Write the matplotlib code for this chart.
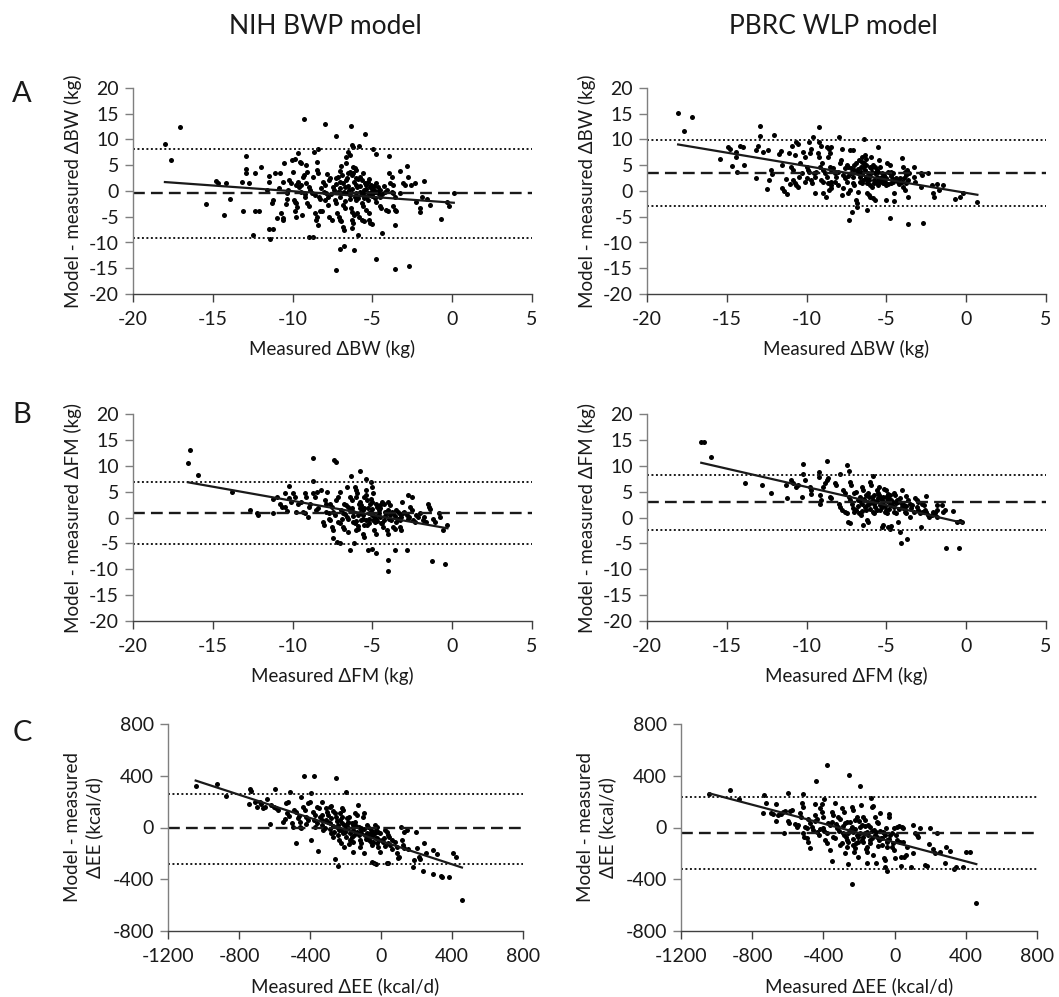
import numpy as np
import matplotlib
matplotlib.use('Agg')
import matplotlib.pyplot as plt

plt.rcParams['font.family'] = ['Lato', 'DejaVu Sans']

# column titles, row letters
col_titles = ['NIH BWP model', 'PBRC WLP model']
row_letters = ['A', 'B', 'C']

x_labels = ['Measured \u0394BW (kg)', 'Measured \u0394FM (kg)', 'Measured \u0394EE (kcal/d)']
y_labels = ['Model - measured \u0394BW (kg)', 'Model - measured \u0394FM (kg)',
            'Model - measured\n\u0394EE (kcal/d)']

# (measured, model - measured)
nih_bw = [(-18.0, 9.2), (-17.6, 6.1), (-17.05, 12.4), (-15.4, -2.5), (-14.8, 1.9), (-14.7, 1.6),
          (-14.3, -4.6), (-14.2, 1.5), (-13.9, -1.6), (-13.2, 1.8), (-13.1, -3.8), (-12.9, 6.7),
          (-12.9, 4.2), (-12.95, 3.4), (-12.75, 1.5), (-12.5, -8.6), (-12.35, 3.5), (-12.35, -3.9),
          (-12.1, -3.9), (-12.0, 4.6), (-11.6, 0.2), (-11.5, 3.0), (-11.5, 1.8), (-11.5, -7.3),
          (-11.2, -7.3), (-11.4, -9.3), (-11.3, -2.3), (-11.2, -1.7), (-11.1, 3.4), (-10.8, 3.4),
          (-11.0, -5.3), (-10.85, 0.65), (-10.7, -4.3), (-10.6, -5.3), (-10.6, -5.6), (-10.55, 5.35),
          (-10.6, 1.8), (-10.4, -2.5), (-10.35, -1.6), (-10.3, 0.2), (-10.35, -0.45), (-10.2, 2.1),
          (-10.1, 1.6), (-10.05, 6.0), (-9.87, 6.3), (-9.97, 3.7), (-9.9, -1.7), (-9.85, -2.1),
          (-9.8, -2.4), (-9.87, -3.8), (-9.7, -3.2), (-9.8, -5.0), (-9.76, 1.2), (-9.65, 1.8),
          (-9.6, 0.8), (-9.65, 7.3), (-9.55, 5.7), (-9.45, 5.35), (-9.5, 1.2), (-9.35, 2.8),
          (-9.3, 3.1), (-9.3, 14.0), (-9.45, -0.1), (-9.25, -0.6), (-9.4, -4.6), (-9.15, 5.0),
          (-9.1, 3.7), (-9.15, 1.6), (-9.0, 0.8), (-9.1, -2.4), (-9.0, -3.0), (-8.95, -9.0),
          (-8.75, -9.0), (-8.9, 0.2), (-8.8, -0.45), (-8.7, 2.8), (-8.67, 7.6), (-8.6, -4.3),
          (-8.5, -5.0), (-8.55, -5.7), (-8.4, -6.6), (-8.5, 4.1), (-8.4, 3.4), (-8.46, 5.7),
          (-8.4, 8.1), (-8.34, -1.1), (-8.26, -1.6), (-8.3, -3.8), (-8.13, -3.8), (-7.94, 13.0),
          (-8.1, 1.8), (-8.0, 1.2), (-8.05, -0.1), (-7.88, -0.45), (-7.77, -1.1), (-8.0, -1.75),
          (-7.77, -2.7), (-7.84, 3.3), (-7.7, 2.1), (-7.67, 2.45), (-7.7, -5.0), (-7.56, -5.6),
          (-7.46, 0.8), (-7.4, 0.2), (-7.36, -1.75), (-7.3, -2.4), (-7.25, 10.6), (-7.3, -15.4),
          (-7.25, 2.45), (-7.15, 2.8), (-7.04, 1.8), (-7.15, -0.1), (-7.04, -1.1), (-6.94, -0.45),
          (-7.2, -4.3), (-7.1, -5.0), (-7.0, -5.6), (-7.04, -11.2), (-6.77, -10.6), (-6.98, 4.9),
          (-6.94, -5.9), (-6.83, -6.9), (-6.8, -7.5), (-6.83, -2.7), (-6.73, -3.35), (-6.83, 1.5),
          (-6.73, 0.8), (-6.63, 2.1), (-6.67, 5.35), (-6.63, 6.6), (-6.52, 7.6), (-6.42, 7.0),
          (-6.6, -0.45), (-6.46, 0.2), (-6.42, -0.8), (-6.52, 3.4), (-6.42, 3.7), (-6.3, 3.1),
          (-6.35, 12.6), (-6.3, 8.9), (-6.2, 8.6), (-6.37, -3.35), (-6.25, -4.0), (-6.17, -4.6),
          (-6.3, -5.6), (-6.2, -6.25), (-6.25, -7.2), (-6.14, -11.5), (-6.2, 4.7), (-6.1, 4.4),
          (-6.0, 4.1), (-6.17, 1.8), (-6.04, 1.2), (-5.96, 0.8), (-6.1, -1.1), (-6.0, -1.75),
          (-5.9, -1.4), (-5.96, -4.3), (-5.83, -5.0), (-5.9, -8.5), (-5.83, 8.8), (-5.79, 2.8),
          (-5.68, 2.1), (-5.62, 3.4), (-5.75, -0.1), (-5.62, -0.45), (-5.54, 0.2), (-5.68, -2.4),
          (-5.58, -3.0), (-5.64, -5.6), (-5.54, -5.9), (-5.48, 11.1), (-5.48, 1.5), (-5.37, 1.2),
          (-5.27, 1.8), (-5.4, -1.1), (-5.27, -1.75), (-5.16, -0.8), (-5.37, -3.7), (-5.2, -4.3),
          (-5.2, -5.6), (-5.12, -6.25), (-5.12, 0.8), (-5.0, 0.5), (-4.9, 0.2), (-5.06, -0.1),
          (-4.95, -0.45), (-4.85, -0.1), (-5.0, -6.4), (-4.95, 8.1), (-4.8, 7.2), (-4.85, -1.4),
          (-4.75, -2.1), (-4.75, -13.2), (-4.75, 1.5), (-4.64, 0.8), (-4.64, -0.45), (-4.53, 0.2),
          (-4.5, -1.1), (-4.53, -3.0), (-4.43, -3.35), (-4.4, -8.1), (-4.2, -0.1), (-4.1, 0.2),
          (-4.16, -3.7), (-4.0, -3.8), (-3.95, 6.8), (-3.95, 3.55), (-3.8, 2.8), (-3.87, 1.5),
          (-3.74, 1.2), (-3.8, -0.1), (-3.7, -0.45), (-3.6, -1.1), (-3.74, -3.0), (-3.6, -3.7),
          (-3.5, -3.8), (-3.6, -6.6), (-3.6, -15.2), (-3.28, 3.9), (-3.24, -0.45), (-3.07, 1.5),
          (-2.97, 1.2), (-2.82, 4.9), (-2.76, 2.65), (-2.7, -14.6), (-2.6, 1.2), (-2.34, 1.5),
          (-2.24, -2.1), (-2.03, -3.35), (-2.0, -4.0), (-1.92, -1.1), (-1.76, 1.9), (-1.6, -1.6),
          (-1.4, -2.7), (-0.7, -5.4), (-0.35, -2.1), (-0.2, -2.9), (0.1, -0.45),
          (-7.0, 0.5), (-6.8, -0.2), (-6.5, 1.0), (-6.3, 0.4), (-6.0, -0.3), (-5.8, 0.9),
          (-5.6, -0.7), (-5.4, 0.3), (-5.3, -0.3), (-5.1, 1.1), (-4.9, 0.9), (-4.7, -0.2),
          (-5.9, 2.3), (-6.6, 2.6), (-6.9, 3.1), (-7.3, 1.3), (-7.6, -0.6), (-8.2, 0.6),
          (-8.6, -0.8), (-9.2, -1.2), (-6.4, -1.5), (-5.5, -1.3), (-4.4, -0.6), (-4.3, 1.0),
          (-6.7, -2.0), (-7.0, 3.9), (-6.2, 3.4), (-6.0, 2.5), (-5.2, 2.3), (-5.0, -1.0)]

pbrc_bw = [(-18.05, 15.2), (-17.7, 11.7), (-17.15, 14.45), (-15.45, 6.25), (-14.9, 8.45), (-14.8, 8.1),
           (-14.7, 4.9), (-14.45, 7.6), (-14.4, 6.6), (-14.35, 3.75), (-14.2, 8.8), (-13.98, 8.6),
           (-13.9, 5.1), (-13.2, 2.6), (-13.15, 7.9), (-13.05, 8.7), (-12.9, 12.7), (-12.9, 10.65),
           (-12.75, 7.6), (-12.5, 0.45), (-12.4, 7.9), (-12.35, 2.1), (-12.25, 4.05), (-12.15, 3.3),
           (-12.05, 10.9), (-11.7, 7.15), (-11.6, 7.8), (-11.55, 5.0), (-11.55, 0.5), (-11.4, 0.05),
           (-11.3, 2.4), (-11.2, -0.6), (-11.1, 7.3), (-11.05, 1.35), (-10.95, 4.7), (-10.85, 4.05),
           (-10.9, 8.7), (-10.85, 2.1), (-10.75, 1.6), (-10.7, 6.95), (-10.65, 9.55), (-10.55, 9.2),
           (-10.65, 1.15), (-10.55, 0.8), (-10.45, 2.8), (-10.3, 3.4), (-10.4, 5.35), (-10.2, 7.6),
           (-10.1, 6.65), (-10.1, 1.8), (-10.0, 2.45), (-10.0, 4.7), (-9.9, 4.05), (-9.85, 3.75),
           (-9.85, 9.55), (-9.8, 7.3), (-9.7, 8.25), (-9.75, 2.1), (-9.65, 1.5), (-9.6, 10.45),
           (-9.55, 3.4), (-9.5, 2.8), (-9.4, 3.75), (-9.5, -0.45), (-9.3, 7.3), (-9.25, 6.65),
           (-9.25, 12.45), (-9.2, 9.55), (-9.1, 8.7), (-9.15, 4.7), (-9.05, 5.35), (-8.95, 4.05),
           (-9.1, 2.1), (-9.0, 1.8), (-8.95, -0.45), (-8.8, -1.1), (-8.85, 3.4), (-8.75, 2.8),
           (-8.7, 8.6), (-8.6, 8.25), (-8.45, 8.6), (-8.65, 6.65), (-8.55, 7.3), (-8.65, 1.6),
           (-8.5, 1.8), (-8.45, 1.15), (-8.55, 4.7), (-8.45, 4.05), (-8.35, 4.4), (-8.6, 0.1),
           (-8.45, 0.5), (-8.25, 3.4), (-8.15, 2.8), (-8.05, 3.75), (-8.2, 1.8), (-8.05, 1.15),
           (-7.95, 10.45), (-7.9, 5.35), (-7.85, 6.0), (-7.8, 8.25), (-7.8, -0.8), (-7.75, 0.5),
           (-7.7, 3.1), (-7.6, 2.45), (-7.5, 1.8), (-7.6, 4.4), (-7.5, 5.0), (-7.4, 4.7),
           (-7.4, -0.45), (-7.3, 0.2), (-7.35, -5.6), (-7.3, 7.9), (-7.1, 7.9), (-7.2, 3.4),
           (-7.1, 2.8), (-7.05, 4.05), (-7.15, -4.0), (-7.1, 1.5), (-7.0, 1.15), (-7.0, 5.0),
           (-6.9, 5.35), (-6.9, -1.75), (-6.85, -2.4), (-6.85, -3.15), (-6.75, -0.15), (-6.75, 3.4),
           (-6.65, 2.8), (-6.6, 3.75), (-6.7, 6.0), (-6.55, 6.65), (-6.5, 5.7), (-6.65, 1.8),
           (-6.55, 1.5), (-6.45, 2.1), (-6.45, 4.7), (-6.35, 4.05), (-6.3, 5.0), (-6.4, 10.0),
           (-6.35, 6.95), (-6.25, 6.3), (-6.25, 2.8), (-6.15, 3.4), (-6.1, 2.1), (-6.2, -0.45),
           (-6.1, -0.8), (-6.0, -1.1), (-6.2, -3.7), (-6.05, 4.7), (-5.95, 4.4), (-5.85, 5.0),
           (-6.0, 1.15), (-5.9, 0.8), (-5.8, 1.5), (-5.95, 6.65), (-5.85, -1.4), (-5.7, -1.75),
           (-5.7, 3.4), (-5.6, 2.8), (-5.55, 3.75), (-5.6, 1.8), (-5.5, 1.5), (-5.45, 2.1),
           (-5.5, 8.6), (-5.45, 6.0), (-5.4, 4.7), (-5.3, 3.4), (-5.25, 2.8), (-5.15, 3.1),
           (-5.2, 1.5), (-5.1, 1.8), (-5.05, 1.15), (-5.05, -1.75), (-4.95, 5.35), (-4.8, 5.0),
           (-4.9, 3.75), (-4.8, 3.4), (-4.7, 3.75), (-4.8, -5.3), (-4.7, 1.6), (-4.6, 1.8),
           (-4.6, 3.4), (-4.5, -0.45), (-4.5, -1.9), (-4.35, 2.1), (-4.25, 1.8), (-4.15, 2.45),
           (-4.05, 1.8), (-4.0, 6.5), (-3.95, 4.7), (-3.85, 3.75), (-3.8, 3.1), (-3.95, 0.8),
           (-3.85, 0.2), (-3.75, 1.5), (-3.65, 2.1), (-3.7, 4.05), (-3.6, 3.55), (-3.65, -1.2),
           (-3.65, -6.45), (-3.3, 4.7), (-3.25, 2.8), (-3.2, 1.8), (-2.85, 3.4), (-2.75, 3.1),
           (-2.85, 0.8), (-2.7, -6.25), (-2.4, 3.4), (-2.15, 1.15), (-2.05, -0.45), (-2.0, -1.1),
           (-1.8, 1.35), (-1.45, 1.2), (-1.7, 0.2), (-0.7, -1.5), (-0.4, -1.1), (-0.2, -0.45),
           (0.7, -2.1),
           (-6.8, 4.2), (-6.5, 3.3), (-6.3, 2.3), (-6.0, 3.0), (-5.8, 2.2), (-5.6, 4.1),
           (-5.4, 2.5), (-5.2, 1.9), (-5.0, 2.6), (-4.9, 1.4), (-4.7, 2.9), (-4.4, 2.6),
           (-6.6, 4.7), (-6.9, 3.7), (-7.2, 4.5), (-7.4, 3.0), (-5.9, 3.6), (-5.5, 1.1),
           (-5.3, 1.7), (-4.2, 1.3), (-6.2, 1.6), (-5.7, 4.6), (-6.4, 5.5), (-4.6, 2.3),
           (-3.9, 2.5)]

nih_fm = [(-16.55, 10.45), (-16.4, 13.0), (-15.9, 8.2), (-13.8, 4.85), (-12.7, 1.5), (-12.15, 0.45),
          (-12.2, 0.8), (-11.2, 0.8), (-11.25, 3.55), (-11.0, 4.0), (-10.8, 2.7), (-10.65, 2.05),
          (-10.5, 2.05), (-10.45, 4.65), (-10.35, 1.2), (-10.2, 6.1), (-10.2, 3.7), (-10.1, 3.0),
          (-9.95, 4.65), (-9.85, 4.0), (-9.8, 1.1), (-9.65, 2.7), (-9.45, 3.0), (-9.35, 1.1),
          (-9.2, 0.9), (-9.25, 4.65), (-9.15, 4.0), (-9.05, 0.15), (-8.95, 2.05), (-8.9, 2.7),
          (-8.75, 7.1), (-8.7, 4.65), (-8.6, 4.0), (-8.5, 4.95), (-8.7, 11.55), (-8.55, 1.4),
          (-8.4, 1.75), (-8.2, 5.3), (-8.1, -0.85), (-8.05, -1.5), (-8.0, 3.35), (-7.9, 2.7),
          (-7.9, 1.1), (-7.75, 0.8), (-7.85, 4.95), (-7.75, -0.2), (-7.65, -0.5), (-7.65, 2.7),
          (-7.55, 2.05), (-7.55, -1.8), (-7.45, -2.45), (-7.5, -4.05), (-7.45, 1.1), (-7.35, 0.45),
          (-7.4, 11.2), (-7.3, 10.65), (-7.25, 3.35), (-7.15, 4.0), (-7.2, -4.7), (-7.05, -4.85),
          (-7.15, -0.85), (-7.05, -1.15), (-7.05, 4.95), (-6.95, 1.4), (-6.85, 0.9), (-6.85, -1.8),
          (-6.75, -2.15), (-6.8, 2.7), (-6.65, 2.4), (-6.6, 5.95), (-6.6, 0.15), (-6.5, -0.2),
          (-6.5, -2.8), (-6.4, -6.3), (-6.35, 8.0), (-6.4, 4.0), (-6.3, 3.35), (-6.3, 1.75),
          (-6.2, 1.1), (-6.2, -0.85), (-6.1, -1.15), (-6.15, -5.0), (-6.1, 5.95), (-6.0, 5.3),
          (-6.05, 4.0), (-5.95, 4.65), (-6.0, -2.45), (-5.9, -2.15), (-5.9, 0.45), (-5.8, 0.8),
          (-5.85, 2.7), (-5.75, 3.0), (-5.75, 9.0), (-5.7, -0.5), (-5.6, -0.2), (-5.6, 1.4),
          (-5.55, 1.75), (-5.6, -3.1), (-5.5, -3.75), (-5.5, 4.0), (-5.4, 4.3), (-5.35, 3.35),
          (-5.4, 5.3), (-5.4, 7.35), (-5.35, -1.5), (-5.2, -1.15), (-5.25, -6.2), (-5.2, 0.8),
          (-5.1, 1.1), (-5.05, 0.45), (-5.15, 2.7), (-5.05, 3.0), (-5.1, 6.9), (-5.0, 5.95),
          (-4.95, 4.65), (-5.0, -6.0), (-4.95, -0.5), (-4.85, -0.85), (-4.8, -0.2), (-4.9, -2.45),
          (-4.8, -3.1), (-4.75, -6.85), (-4.7, 2.05), (-4.6, 1.4), (-4.55, 2.4), (-4.65, 0.45),
          (-4.55, 0.15), (-4.45, -1.15), (-4.35, -1.8), (-4.4, 3.0), (-4.3, 2.7), (-4.2, 1.1),
          (-4.15, 0.8), (-4.05, 1.4), (-4.1, -2.45), (-4.0, -3.1), (-4.05, -8.15), (-4.05, -10.35),
          (-4.0, 3.0), (-3.9, 2.4), (-3.95, -0.2), (-3.85, -0.5), (-3.8, 1.1), (-3.7, 0.8),
          (-3.7, -1.8), (-3.6, -2.15), (-3.6, -6.2), (-3.55, 1.4), (-3.4, 1.1), (-3.4, -0.2),
          (-3.3, -0.5), (-3.2, 0.15), (-3.3, -1.8), (-3.2, -2.45), (-3.15, 3.0), (-3.1, 0.8),
          (-3.0, 1.1), (-2.85, -6.3), (-2.85, 0.45), (-2.75, -0.2), (-2.7, 0.15), (-2.8, 4.3),
          (-2.65, 2.05), (-2.55, 1.4), (-2.5, 4.0), (-2.45, -0.5), (-2.35, -0.85), (-2.25, 0.45),
          (-2.15, 0.15), (-2.0, 0.8), (-1.85, -0.5), (-1.75, 0.15), (-1.65, -0.85), (-1.5, 2.6),
          (-1.45, 2.05), (-1.4, 1.55), (-1.25, -8.5), (-1.2, -0.2), (-1.1, -0.85), (-0.8, 0.8),
          (-0.75, 0.15), (-0.55, -2.45), (-0.45, -8.9), (-0.3, -1.5),
          (-6.7, 0.6), (-6.4, 1.5), (-6.2, 0.3), (-6.0, -0.6), (-5.8, 1.8), (-5.6, 0.4),
          (-5.4, -0.5), (-5.3, 1.9), (-5.2, -0.3), (-5.0, 1.6), (-4.9, 0.3), (-4.7, -0.6),
          (-4.6, 0.9), (-4.5, 1.8), (-4.3, -0.4), (-4.2, 0.3), (-3.9, 0.5), (-3.6, 0.2),
          (-3.5, -0.8), (-5.7, 2.4), (-6.5, 2.0), (-5.5, -1.4), (-4.4, -1.0), (-3.3, 0.6),
          (-6.9, -0.3), (-5.9, -1.6), (-4.8, 2.7), (-5.1, 3.6)]

pbrc_fm = [(-16.6, 14.65), (-16.45, 14.65), (-16.0, 11.75), (-13.85, 6.7), (-12.8, 6.3), (-12.2, 4.65),
           (-11.3, 6.25), (-11.25, 3.8), (-10.95, 7.2), (-10.85, 6.7), (-10.65, 5.95), (-10.55, 6.25),
           (-10.3, 4.0), (-10.25, 10.25), (-10.2, 8.5), (-10.1, 7.2), (-9.8, 5.95), (-9.7, 5.3),
           (-9.7, 4.5), (-9.25, 8.85), (-9.2, 7.85), (-9.15, 4.3), (-9.1, 3.35), (-9.15, 2.7),
           (-8.95, 5.95), (-8.85, 6.6), (-8.75, 7.25), (-8.65, 7.55), (-8.75, 10.9), (-8.55, 4.0),
           (-8.45, 3.7), (-8.25, 6.7), (-8.15, 6.25), (-8.0, 2.7), (-7.9, 2.05), (-7.8, 1.4),
           (-7.9, 8.4), (-7.7, 5.3), (-7.6, 4.65), (-7.6, 1.1), (-7.5, 0.9), (-7.45, 10.1),
           (-7.35, 9.05), (-7.4, -0.85), (-7.3, -1.15), (-7.35, 4.0), (-7.25, 3.35), (-7.15, 2.7),
           (-7.3, 6.9), (-7.2, 6.25), (-7.1, 1.75), (-7.0, 1.1), (-6.9, 1.4), (-7.05, 4.65),
           (-6.9, 4.95), (-6.75, 3.35), (-6.65, 4.0), (-6.55, 2.7), (-6.7, 0.8), (-6.6, 0.45),
           (-6.55, 5.95), (-6.45, 5.3), (-6.45, -1.5), (-6.35, 2.05), (-6.25, 1.4), (-6.2, 2.4),
           (-6.3, 4.3), (-6.15, 4.65), (-6.1, 4.0), (-6.2, -0.5), (-6.15, -0.85), (-6.05, 6.9),
           (-5.95, 6.25), (-5.95, 3.0), (-5.85, 3.35), (-5.75, 2.7), (-5.85, 8.05), (-5.85, 1.1),
           (-5.75, 0.8), (-5.6, 1.4), (-5.6, 5.3), (-5.5, 4.65), (-5.45, 5.95), (-5.5, 3.7),
           (-5.4, 4.0), (-5.3, 3.35), (-5.4, 2.4), (-5.3, 2.05), (-5.2, 2.7), (-5.3, -1.8),
           (-5.2, -1.5), (-5.15, 5.6), (-5.05, 5.3), (-5.1, 1.1), (-5.0, 1.4), (-4.95, 0.8),
           (-5.0, 4.0), (-4.9, 3.7), (-4.8, 4.3), (-4.9, -1.8), (-4.8, -2.15), (-4.7, -1.7),
           (-4.8, 2.7), (-4.7, 2.4), (-4.6, 3.0), (-4.55, 4.65), (-4.45, 4.3), (-4.55, 1.1),
           (-4.4, 0.8), (-4.35, 3.35), (-4.25, 3.0), (-4.15, 3.7), (-4.25, -0.85), (-4.15, -2.75),
           (-4.1, -4.9), (-4.05, 2.05), (-3.95, 1.75), (-3.9, 2.4), (-4.0, 5.3), (-3.85, 1.1),
           (-3.75, 0.8), (-3.75, 4.2), (-3.7, -4.1), (-3.65, 3.35), (-3.55, 2.7), (-3.55, 0.15),
           (-3.45, 1.75), (-3.3, 1.1), (-3.2, 3.7), (-3.1, 3.35), (-3.0, 3.0), (-3.1, 2.05),
           (-3.0, 1.4), (-2.9, 0.8), (-2.8, 1.1), (-2.85, -1.8), (-2.75, 2.7), (-2.65, 2.4),
           (-2.55, 4.25), (-2.6, 1.4), (-2.5, 1.1), (-2.4, 0.45), (-2.3, 0.15), (-2.15, 0.45),
           (-2.05, 1.1), (-1.95, 0.8), (-1.85, 2.4), (-1.8, 1.4), (-1.85, 0.15), (-1.5, 2.4),
           (-1.45, 1.1), (-1.3, 1.4), (-1.25, -5.8), (-0.45, -5.8), (-0.8, 1.3), (-0.6, -0.85),
           (-0.4, -0.65), (-0.25, -0.85),
           (-6.6, 2.9), (-6.4, 3.6), (-6.1, 2.6), (-5.9, 3.9), (-5.7, 2.0), (-5.6, 3.2),
           (-5.45, 4.4), (-5.3, 2.8), (-5.2, 3.9), (-5.1, 2.3), (-4.95, 3.2), (-4.85, 1.7),
           (-4.7, 3.3), (-4.55, 2.0), (-4.4, 2.8), (-4.2, 1.6), (-4.0, 2.7), (-5.8, 4.4),
           (-6.0, 1.6), (-5.4, 1.5), (-4.9, 4.6), (-6.8, 2.2), (-6.5, 1.2), (-3.8, 2.2),
           (-3.4, 2.4)]

nih_ee = [(-1044, 324), (-924, 337), (-875, 244), (-739, 298), (-730, 283), (-743, 185), (-711, 200),
          (-698, 161), (-683, 200), (-674, 182), (-664, 149), (-655, 162), (-645, 218), (-623, 27),
          (-617, 174), (-604, 162), (-598, 296), (-589, 149), (-580, 136), (-551, 45), (-542, 63),
          (-536, 187), (-523, 200), (-529, 110), (-518, 89), (-514, 278), (-504, 32), (-495, 6),
          (-491, 136), (-480, 123), (-480, -123), (-467, 71), (-457, 45), (-457, 6), (-448, -7),
          (-448, 239), (-439, 162), (-429, 136), (-435, 399), (-420, 84), (-410, 58), (-410, 187),
          (-401, 200), (-397, 265), (-392, -97), (-382, 123), (-373, 97), (-378, 399), (-373, 6),
          (-363, 32), (-360, 162), (-348, 149), (-354, -185), (-345, 84), (-335, 58), (-330, 97),
          (-335, 200), (-326, -19), (-316, -7), (-311, 149), (-303, 123), (-298, 45), (-288, 32),
          (-284, 71), (-288, 162), (-279, 167), (-279, -45), (-269, -71), (-266, -32), (-260, 110),
          (-251, 84), (-260, -244), (-254, 386), (-247, 6), (-241, 19), (-236, -19), (-241, -296),
          (-236, -97), (-228, -123), (-232, 58), (-222, 84), (-217, 32), (-222, 149), (-213, 136),
          (-213, -45), (-203, -32), (-198, -71), (-209, -149), (-198, 278), (-194, 71), (-185, 45),
          (-179, 84), (-194, 6), (-185, -7), (-175, -97), (-166, -71), (-160, -110), (-166, 32),
          (-156, 19), (-147, 45), (-156, -188), (-147, 110), (-138, 97), (-142, -45), (-134, -32),
          (-128, 174), (-123, 6), (-115, -7), (-110, -19), (-119, -97), (-110, -123), (-104, 84),
          (-96, 110), (-96, -195), (-91, -58), (-81, -71), (-78, -45), (-81, 19), (-72, 6),
          (-66, -97), (-59, -110), (-53, -136), (-59, -19), (-48, -32), (-53, -265), (-44, -58),
          (-34, -45), (-29, -84), (-40, -278), (-29, -283), (-34, 19), (-25, 6), (-25, -123),
          (-16, -149), (-16, -32), (-6, -45), (-6, -188), (3, -97), (13, -110), (16, -84), (22, -19),
          (32, -32), (41, -58), (32, -273), (41, -278), (41, -123), (50, -136), (46, -76), (60, -170),
          (78, -110), (88, -149), (88, -200), (97, -239), (103, -226), (110, 6), (116, -97),
          (125, -136), (129, -162), (129, -32), (144, -19), (154, -170), (178, -304), (186, -252),
          (197, -32), (201, -162), (216, -226), (220, -247), (234, -335), (242, -123), (253, -200),
          (291, -356), (291, -175), (313, -206), (336, -376), (342, -386), (385, -381), (404, -200),
          (422, -231), (456, -560),
          (-330, 20), (-310, 60), (-290, -10), (-270, 10), (-250, 50), (-240, -60), (-225, -20),
          (-210, 20), (-200, -10), (-190, 30), (-175, -40), (-160, -20), (-150, -60), (-140, 10),
          (-125, -60), (-110, -40), (-95, -10), (-85, -90), (-70, -50), (-60, -70), (-45, -110),
          (-30, -20), (-20, -80), (-10, -100), (-300, 100), (-270, 130), (-230, 110), (-180, -130),
          (-120, -150), (20, -140), (60, -100), (-380, 60), (-420, 30), (-460, 90)]

pbrc_ee = [(-1041, 260), (-923, 286), (-872, 218), (-741, 110), (-732, 252), (-722, 193), (-696, 115),
           (-685, 105), (-666, 53), (-666, 182), (-653, 97), (-640, 105), (-625, 123), (-615, 130),
           (-621, -45), (-600, 270), (-597, 53), (-591, 32), (-587, 130), (-578, 136), (-559, 27),
           (-550, 6), (-540, 19), (-531, 115), (-527, 84), (-522, 187), (-512, 162), (-512, 260),
           (-516, -40), (-508, -71), (-503, 6), (-494, -7), (-494, -84), (-484, -110), (-484, 63),
           (-475, 32), (-478, -157), (-465, 6), (-456, -19), (-447, 97), (-437, 63), (-447, 182),
           (-441, 363), (-434, -32), (-422, -58), (-419, 149), (-409, 123), (-409, 182), (-403, -7),
           (-396, -24), (-400, 84), (-394, 218), (-390, -97), (-381, -123), (-377, 482), (-372, 32),
           (-362, 19), (-362, -175), (-353, -257), (-353, 123), (-344, 97), (-344, -71), (-334, -84),
           (-334, 187), (-325, -7), (-316, 6), (-316, 84), (-306, 63), (-306, -136), (-297, -123),
           (-297, 149), (-287, 123), (-291, -45), (-284, -58), (-278, 32), (-269, 45), (-278, -195),
           (-269, -97), (-259, -110), (-259, -283), (-254, 407), (-250, -19), (-241, 6), (-235, -32),
           (-241, -433), (-241, 162), (-235, 136), (-231, -136), (-222, -162), (-216, -123),
           (-222, 58), (-212, 84), (-209, -58), (-203, -71), (-203, -226), (-197, 317), (-194, 6),
           (-184, 19), (-190, 174), (-184, -97), (-175, -110), (-175, 84), (-166, 58), (-166, -45),
           (-156, -32), (-156, -149), (-153, -188), (-153, -278), (-147, 19), (-137, 6), (-137, -97),
           (-128, -84), (-134, 226), (-128, 162), (-119, 167), (-119, -213), (-115, -19), (-104, -32),
           (-110, 84), (-104, -273), (-100, 45), (-91, 32), (-97, -71), (-85, -97), (-78, -84),
           (-81, 110), (-72, -136), (-66, -32), (-59, -45), (-62, -239), (-53, -252), (-53, -304),
           (-47, -7), (-44, -97), (-40, -110), (-40, -335), (-34, 105), (-29, 79), (-25, -58),
           (-16, -45), (-16, -149), (-6, -175), (-6, -7), (3, -239), (13, 6), (22, 11), (16, -97),
           (28, -110), (35, -226), (41, 6), (47, -7), (47, -110), (54, -226), (65, -213), (35, -299),
           (69, -149), (91, -304), (106, 19), (116, -45), (106, -200), (125, -58), (134, -71),
           (140, -7), (172, -291), (181, -299), (196, -128), (200, -7), (215, -170), (228, -195),
           (241, -45), (253, -188), (284, -273), (290, -149), (312, -180), (335, -317), (346, -309),
           (387, -304), (402, -190), (421, -190), (459, -585),
           (-330, 30), (-310, -30), (-290, 10), (-275, -70), (-260, -40), (-250, 40), (-235, -90),
           (-220, -10), (-205, -110), (-195, -40), (-180, -70), (-165, 10), (-150, -60), (-140, -120),
           (-125, -30), (-110, -60), (-95, -140), (-80, -30), (-70, -80), (-55, -60), (-40, -150),
           (-30, -90), (-270, -150), (-230, -190), (-200, 50), (-160, -170), (-350, 40), (-380, -40),
           (-420, -10), (-450, 50), (-10, -120), (10, -60)]

# mean bias and limits of agreement (mean, upper, lower)
nih_bw_lines = (-0.35, 8.13, -9.16)
pbrc_bw_lines = (3.55, 9.87, -2.9)
nih_fm_lines = (0.9, 6.9, -5.16)
pbrc_fm_lines = (2.97, 8.2, -2.45)
nih_ee_lines = (-7, 260, -283)
pbrc_ee_lines = (-40, 236, -319)

# regression line (intercept, slope)
nih_bw_fit = (-2.26, -0.222)
pbrc_bw_fit = (-0.37, -0.521)
nih_fm_fit = (-2.25, -0.547)
pbrc_fm_fit = (-1.18, -0.708)
nih_ee_fit = (-105, -0.448)
pbrc_ee_fit = (-115.6, -0.3646)

kg_xticks = [-20, -15, -10, -5, 0, 5]
kg_yticks = [-20, -15, -10, -5, 0, 5, 10, 15, 20]
ee_xticks = [-1200, -800, -400, 0, 400, 800]
ee_yticks = [-800, -400, 0, 400, 800]

W, H = 1059, 997
fig = plt.figure(figsize=(W / 100, H / 100), dpi=100)

ink = '#1a1a1a'
spine_col = '#7f7f7f'

def px_axes(x0, y0, x1, y1):
    # axes from pixel box (top-left origin)
    return fig.add_axes([x0 / W, 1 - y1 / H, (x1 - x0) / W, (y1 - y0) / H])

def panel(ax, pts, lines, fit, xlim, ylim, xt, yt, xlab, ylab, ylab_pad):
    x, y = np.array(pts).T
    ax.plot(x, y, 'o', color='black', ms=3.6, mec='none')
    ax.axhline(lines[0], color=ink, lw=1.7, dashes=(5, 2.6))
    ax.axhline(lines[1], color=ink, lw=1.4, dashes=(1, 1.3))
    ax.axhline(lines[2], color=ink, lw=1.4, dashes=(1, 1.3))
    xs = np.array([x.min(), x.max()])
    ax.plot(xs, fit[0] + fit[1] * xs, color=ink, lw=1.6)
    ax.set_xlim(xlim)
    ax.set_ylim(ylim)
    ax.set_xticks(xt)
    ax.set_yticks(yt)
    ax.set_xticklabels([str(v) for v in xt])
    ax.set_yticklabels([str(v) for v in yt])
    for s in ['top', 'right']:
        ax.spines[s].set_visible(False)
    ax.spines['left'].set_color(spine_col)
    ax.spines['bottom'].set_color('#404040')
    ax.spines['left'].set_linewidth(1.0)
    ax.spines['bottom'].set_linewidth(1.0)
    ax.tick_params(axis='y', direction='out', length=6, width=1.0, color=spine_col,
                   labelsize=14, labelcolor=ink, pad=4)
    ax.tick_params(axis='x', direction='out', length=6, width=1.0, color='#404040',
                   labelsize=14, labelcolor=ink, pad=6)
    ax.set_xlabel(xlab, fontsize=13.5, color=ink, labelpad=9)
    ax.set_ylabel(ylab, fontsize=13.5, color=ink, labelpad=ylab_pad, linespacing=1.3)

# pixel boxes
boxes = {
    (0, 0): (133, 88, 532, 294), (0, 1): (647, 88, 1046, 294),
    (1, 0): (133, 414, 532, 621), (1, 1): (647, 414, 1046, 621),
    (2, 0): (168, 724, 523, 931), (2, 1): (681, 724, 1037, 931),
}

data = [[nih_bw, pbrc_bw], [nih_fm, pbrc_fm], [nih_ee, pbrc_ee]]
lines = [[nih_bw_lines, pbrc_bw_lines], [nih_fm_lines, pbrc_fm_lines], [nih_ee_lines, pbrc_ee_lines]]
fits = [[nih_bw_fit, pbrc_bw_fit], [nih_fm_fit, pbrc_fm_fit], [nih_ee_fit, pbrc_ee_fit]]

for r in range(3):
    for c in range(2):
        ax = px_axes(*boxes[(r, c)])
        if r < 2:
            panel(ax, data[r][c], lines[r][c], fits[r][c], (-20, 5), (-20, 20),
                  kg_xticks, kg_yticks, x_labels[r], y_labels[r], 5)
        else:
            panel(ax, data[r][c], lines[r][c], fits[r][c], (-1200, 800), (-800, 800),
                  ee_xticks, ee_yticks, x_labels[r], y_labels[r], 7)

# column titles and row letters
fig.text(325 / W, 1 - 26 / H, col_titles[0], ha='center', va='center', fontsize=19, color=ink)
fig.text(833 / W, 1 - 26 / H, col_titles[1], ha='center', va='center', fontsize=19, color=ink)
for letter, yp in zip(row_letters, [94, 415, 733]):
    fig.text(22 / W, 1 - yp / H, letter, ha='center', va='center', fontsize=21, color=ink)

fig.savefig('out.png', dpi=100)
